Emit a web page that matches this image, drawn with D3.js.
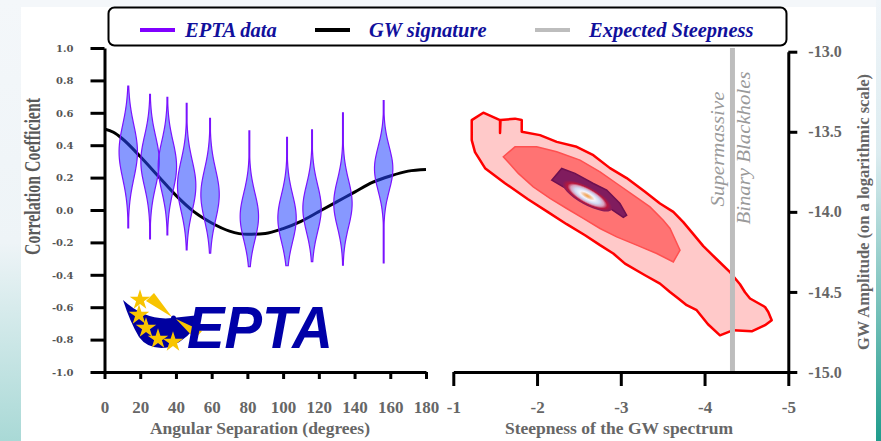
<!DOCTYPE html>
<html>
<head>
<meta charset="utf-8">
<script src="https://cdn.jsdelivr.net/npm/d3@7"></script>
<style>
  body { margin: 0; background: #f4f7fa; }
  svg { display: block; }
</style>
</head>
<body>
<script>
// ---- data ----
var angleTicks = [0, 20, 40, 60, 80, 100, 120, 140, 160, 180];
var corrTicks = [-1, -0.8, -0.6, -0.4, -0.2, 0, 0.2, 0.4, 0.6, 0.8, 1];
var steepTicks = [-1, -2, -3, -4, -5];
var ampTicks = [-13, -13.5, -14, -14.5, -15];

var legendLabels = ["EPTA data", "GW signature", "Expected Steepness"];

// EPTA violins (angular bin, extremes, mode, spread)
var violinAngles = [13.3, 25.5, 35.2, 46.0, 59.1, 81.1, 102.2, 116.2, 133.5, 156.3];
var violinTops = [0.765, 0.714, 0.696, 0.659, 0.566, 0.488, 0.449, 0.494, 0.60, 0.675];
var violinBottoms = [-0.111, -0.179, -0.154, -0.247, -0.267, -0.35, -0.344, -0.319, -0.341, -0.327];
var violinModes = [0.36, 0.30, 0.27, 0.15, 0.095, -0.04, -0.05, 0.01, 0.04, 0.255];
var violinSpreads = [0.165, 0.155, 0.155, 0.155, 0.155, 0.145, 0.145, 0.145, 0.145, 0.135];

// GW signature curve
var gwAngles = [0, 5, 10, 20, 30, 40, 50, 60, 70, 80, 90, 100, 110, 120, 130, 140, 150, 160, 170, 180];
var gwValues = [0.50, 0.48, 0.44, 0.33, 0.21, 0.09, -0.01, -0.08, -0.13, -0.15, -0.145, -0.115, -0.07, -0.01, 0.05, 0.11, 0.17, 0.21, 0.24, 0.25];

// posterior contours [steepness, log amplitude]
var outerContour = [
  [-1.220, -13.427], [-1.358, -13.381], [-1.558, -13.427], [-1.558, -13.508], [-1.564, -13.427],
  [-1.737, -13.418], [-1.817, -13.427], [-1.817, -13.500], [-2.035, -13.521], [-2.235, -13.563],
  [-2.473, -13.594], [-2.672, -13.646], [-2.871, -13.727], [-3.070, -13.789], [-3.289, -13.875],
  [-3.468, -13.948], [-3.627, -14.000], [-3.746, -14.064], [-3.866, -14.139], [-3.985, -14.214],
  [-4.145, -14.296], [-4.304, -14.377], [-4.423, -14.452], [-4.483, -14.502], [-4.543, -14.541],
  [-4.722, -14.594], [-4.761, -14.625], [-4.802, -14.677], [-4.722, -14.708], [-4.563, -14.746],
  [-4.343, -14.739], [-4.184, -14.771], [-4.041, -14.702], [-3.906, -14.614], [-3.787, -14.583],
  [-3.687, -14.541], [-3.587, -14.500], [-3.468, -14.448], [-3.289, -14.396], [-3.050, -14.323],
  [-2.910, -14.260], [-2.752, -14.208], [-2.573, -14.146], [-2.354, -14.077], [-2.131, -14.002],
  [-1.892, -13.921], [-1.617, -13.821], [-1.379, -13.727], [-1.259, -13.627], [-1.220, -13.552]
];
var midContour = [
  [-1.597, -13.656], [-1.737, -13.594], [-1.996, -13.594], [-2.235, -13.625], [-2.513, -13.677],
  [-2.752, -13.750], [-2.951, -13.823], [-3.149, -13.896], [-3.349, -13.969], [-3.507, -14.052],
  [-3.588, -14.104], [-3.707, -14.239], [-3.627, -14.313], [-3.429, -14.260], [-3.190, -14.208],
  [-2.951, -14.156], [-2.752, -14.104], [-2.552, -14.041], [-2.354, -13.979], [-2.155, -13.916],
  [-1.955, -13.844], [-1.776, -13.760]
];
var innerContour = [
  [-2.175, -13.802], [-2.294, -13.729], [-2.453, -13.760], [-2.672, -13.823], [-2.832, -13.864],
  [-2.990, -13.948], [-3.070, -14.021], [-3.030, -14.035], [-2.871, -13.979], [-2.672, -13.927],
  [-2.473, -13.885], [-2.313, -13.844]
];
var peak = [-2.60, -13.90];
var expectedSteepness = -13 / 3;

// ---- layout ----
var width = 881, height = 441;

var xL = d3.scaleLinear().domain([0, 180]).range([104.5, 426]);
var yL = d3.scaleLinear().domain([-1, 1]).range([372, 48]);
var xR = d3.scaleLinear().domain([-1, -5]).range([453.3, 788.3]);
var yR = d3.scaleLinear().domain([-15, -13]).range([372, 51.7]);

var serif = "'Liberation Serif', 'Times New Roman', serif";
var grey = "#666";

var svg = d3.select("body").append("svg")
    .attr("width", width)
    .attr("height", height);

var defs = svg.append("defs");
var lg = defs.append("linearGradient").attr("id", "leftBg")
    .attr("x1", 0).attr("y1", 0).attr("x2", 0).attr("y2", 1);
lg.append("stop").attr("offset", "0").attr("stop-color", "#f4f7fa");
lg.append("stop").attr("offset", "0.55").attr("stop-color", "#eef4f7");
lg.append("stop").attr("offset", "1").attr("stop-color", "#a9d9d6");
var rg = defs.append("linearGradient").attr("id", "rightBg")
    .attr("x1", 0).attr("y1", 0).attr("x2", 0).attr("y2", 1);
rg.append("stop").attr("offset", "0").attr("stop-color", "#f0f5f9");
rg.append("stop").attr("offset", "0.35").attr("stop-color", "#dcecf0");
rg.append("stop").attr("offset", "1").attr("stop-color", "#1f9c8c");
var core = defs.append("radialGradient").attr("id", "core");
[["0", "#f0a048"], ["0.14", "#f3bf90"], ["0.3", "#f6f3fb"], ["0.5", "#d0daf3"],
 ["0.66", "#d8a0bc"], ["0.8", "#b8183e"], ["0.92", "#951a50"], ["1", "#801c5e"]].forEach(function (s) {
    core.append("stop").attr("offset", s[0]).attr("stop-color", s[1]);
});

// background
svg.append("rect").attr("width", width).attr("height", height).attr("fill", "#f4f7fa");
svg.append("rect").attr("x", 0).attr("y", 0).attr("width", 21).attr("height", height).attr("fill", "url(#leftBg)");
svg.append("rect").attr("x", 876).attr("y", 0).attr("width", 5).attr("height", height).attr("fill", "url(#rightBg)");
svg.append("rect").attr("x", 21).attr("y", 7).attr("width", 855).attr("height", height - 7).attr("fill", "#fff");

// ---- left panel ----
var gwLine = d3.line()
    .x(function (d, i) { return xL(gwAngles[i]); })
    .y(function (d) { return yL(d); })
    .curve(d3.curveMonotoneX);

svg.append("path")
    .datum(gwValues)
    .attr("d", gwLine)
    .attr("fill", "none")
    .attr("stroke", "#000")
    .attr("stroke-width", 3);

var halfW = 9.2;
var violinArea = d3.area()
    .y(function (d) { return yL(d.v); })
    .x0(function (d) { return d.c - d.w; })
    .x1(function (d) { return d.c + d.w; })
    .curve(d3.curveBasis);

violinAngles.forEach(function (a, i) {
    var lo = violinBottoms[i], hi = violinTops[i], m = violinModes[i], s = violinSpreads[i];
    var pts = d3.range(61).map(function (k) {
        var v = lo + (hi - lo) * k / 60;
        var w = halfW * Math.exp(-0.5 * Math.pow((v - m) / s, 2));
        return { v: v, c: xL(a), w: Math.max(w, 0.4) };
    });
    svg.append("path")
        .datum(pts)
        .attr("d", violinArea)
        .attr("fill", "#2444ff")
        .attr("fill-opacity", 0.55)
        .attr("stroke", "#7a12ff")
        .attr("stroke-width", 1.2);
});

var axLY = svg.append("g")
    .attr("transform", "translate(" + xL(0) + ",0)")
    .call(d3.axisLeft(yL).tickValues(corrTicks).tickSize(14).tickSizeOuter(0)
        .tickPadding(17).tickFormat(function (d) { return d.toFixed(1); }));
axLY.selectAll("text")
    .style("font-family", "'DejaVu Serif', serif")
    .style("font-weight", "bold")
    .style("font-size", "10px")
    .attr("fill", "#555");

var axLX = svg.append("g")
    .attr("transform", "translate(0," + yL(-1) + ")")
    .call(d3.axisBottom(xL).tickValues(angleTicks).tickSize(7).tickSizeOuter(0));
axLX.selectAll("text")
    .attr("y", 41).attr("dy", 0)
    .style("font-family", serif).style("font-weight", "bold").style("font-size", "17px")
    .attr("fill", grey);

svg.append("text")
    .attr("transform", "translate(40,176.5) rotate(-90)")
    .attr("text-anchor", "middle")
    .attr("textLength", 157).attr("lengthAdjust", "spacingAndGlyphs")
    .style("font-family", serif).style("font-weight", "bold").style("font-size", "24px")
    .attr("fill", "#5a5a5a")
    .text("Correlation Coefficient");

svg.append("text")
    .attr("x", 260).attr("y", 434)
    .attr("text-anchor", "middle")
    .style("font-family", serif).style("font-weight", "bold").style("font-size", "17.5px")
    .attr("fill", grey)
    .text("Angular Separation (degrees)");

// EPTA logo
var logo = svg.append("g");
logo.append("path")
    .attr("d", "M123,300 Q146,321 172,318 L200,315 L200,320 Q189,339 170,347 Q149,351 139,337 Q130,322 123,300 Z")
    .attr("fill", "#0000a0");
logo.append("path").attr("d", "M146,301 L154,293 L172,317 Z").attr("fill", "#f8c400");
logo.append("path").attr("d", "M176,319 L202,331 L195,339 Z").attr("fill", "#f8c400");
logo.append("circle").attr("cx", 173.5).attr("cy", 318).attr("r", 2.5).attr("fill", "#0000a0");
var star = d3.symbol().type(d3.symbolStar).size(130);
[[140, 300], [139, 315], [146, 328], [158, 339], [173, 342]].forEach(function (p) {
    logo.append("path").attr("d", star)
        .attr("transform", "translate(" + p[0] + "," + p[1] + ")")
        .attr("fill", "#f8c400");
});
logo.append("text")
    .attr("x", 187).attr("y", 348)
    .attr("textLength", 146).attr("lengthAdjust", "spacingAndGlyphs")
    .style("font-family", "'Liberation Sans', Arial, sans-serif")
    .style("font-weight", "bold").style("font-style", "italic").style("font-size", "59px")
    .attr("fill", "#0000a8")
    .text("EPTA");

// ---- right panel ----
var contourLine = d3.line()
    .x(function (d) { return xR(d[0]); })
    .y(function (d) { return yR(d[1]); })
    .curve(d3.curveLinearClosed);

svg.append("path").datum(outerContour).attr("d", contourLine)
    .attr("fill", "#ffc9c9").attr("stroke", "#ff0000").attr("stroke-width", 2.5)
    .attr("stroke-linejoin", "round");
svg.append("path").datum(midContour).attr("d", contourLine)
    .attr("fill", "#ff7373").attr("stroke", "#ff5050").attr("stroke-width", 1.5);
svg.append("path").datum(innerContour).attr("d", contourLine)
    .attr("fill", "#801c5e").attr("stroke", "#6e1050").attr("stroke-width", 1.5);
svg.append("ellipse")
    .attr("cx", 0).attr("cy", 0).attr("rx", 28).attr("ry", 9)
    .attr("transform", "translate(" + xR(peak[0]) + "," + yR(peak[1]) + ") rotate(29)")
    .attr("fill", "url(#core)");

svg.append("line")
    .attr("x1", xR(expectedSteepness)).attr("x2", xR(expectedSteepness))
    .attr("y1", 48).attr("y2", yR(-15))
    .attr("stroke", "#bdbdbd").attr("stroke-width", 5);

svg.append("text")
    .attr("transform", "translate(723.5,149) rotate(-90)")
    .attr("text-anchor", "middle")
    .attr("textLength", 115).attr("lengthAdjust", "spacingAndGlyphs")
    .style("font-family", serif).style("font-style", "italic").style("font-size", "19px")
    .attr("fill", "#9a9a9a")
    .text("Supermassive");
svg.append("text")
    .attr("transform", "translate(750,148) rotate(-90)")
    .attr("text-anchor", "middle")
    .attr("textLength", 153).attr("lengthAdjust", "spacingAndGlyphs")
    .style("font-family", serif).style("font-style", "italic").style("font-size", "19px")
    .attr("fill", "#9a9a9a")
    .text("Binary Blackholes");

var axRX = svg.append("g")
    .attr("transform", "translate(0," + yR(-15) + ")")
    .call(d3.axisBottom(xR).tickValues(steepTicks).tickSize(14).tickSizeOuter(0)
        .tickFormat(function (d) { return String(d); }));
axRX.selectAll("text")
    .attr("y", 41).attr("dy", 0)
    .style("font-family", serif).style("font-weight", "bold").style("font-size", "17px")
    .attr("fill", grey);

var axRY = svg.append("g")
    .attr("transform", "translate(" + xR(-5) + ",0)")
    .call(d3.axisRight(yR).tickValues(ampTicks).tickSize(9).tickSizeOuter(0)
        .tickPadding(11).tickFormat(function (d) { return d.toFixed(1); }));
axRY.selectAll("text")
    .style("font-family", serif).style("font-weight", "bold").style("font-size", "16px")
    .attr("fill", grey);

[axLY, axLX, axRX, axRY].forEach(function (g) {
    g.select(".domain").attr("stroke", "#000").attr("stroke-width", 3);
    g.selectAll(".tick line").attr("stroke", "#000").attr("stroke-width", 3);
});

svg.append("text")
    .attr("x", 619).attr("y", 434)
    .attr("text-anchor", "middle")
    .style("font-family", serif).style("font-weight", "bold").style("font-size", "17.5px")
    .attr("fill", grey)
    .text("Steepness of the GW spectrum");

svg.append("text")
    .attr("transform", "translate(869,212) rotate(-90)")
    .attr("text-anchor", "middle")
    .style("font-family", serif).style("font-weight", "bold").style("font-size", "16.5px")
    .attr("fill", grey)
    .text("GW Amplitude (on a logarithmic scale)");

// ---- legend ----
var legend = svg.append("g");
legend.append("rect")
    .attr("x", 108.5).attr("y", 7.5).attr("width", 678).attr("height", 38).attr("rx", 6)
    .attr("fill", "#fff").attr("stroke", "#000").attr("stroke-width", 2);
var legendColors = ["#8000ff", "#000000", "#bdbdbd"];
var legendX = [140, 315, 535];
var legendTextX = [185, 369, 589];
legendLabels.forEach(function (t, i) {
    legend.append("line")
        .attr("x1", legendX[i]).attr("x2", legendX[i] + 35)
        .attr("y1", 30).attr("y2", 30)
        .attr("stroke", legendColors[i]).attr("stroke-width", 4);
    legend.append("text")
        .attr("x", legendTextX[i]).attr("y", 37)
        .style("font-family", serif).style("font-weight", "bold").style("font-style", "italic")
        .style("font-size", "20.5px")
        .attr("fill", "#11109c")
        .text(t);
});
</script>
</body>
</html>
